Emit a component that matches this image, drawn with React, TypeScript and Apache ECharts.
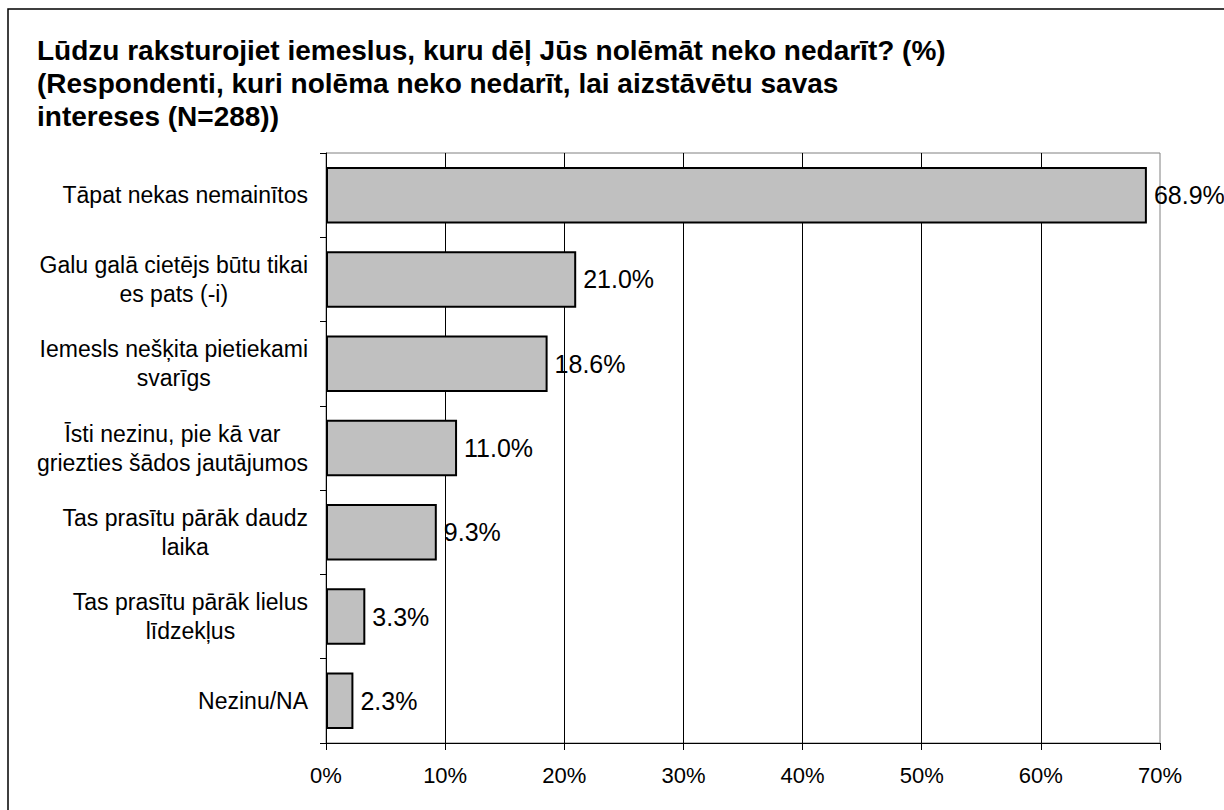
import React, { useEffect, useRef } from "react";
import * as echarts from "echarts";

const titleLines = [
  "Lūdzu raksturojiet iemeslus, kuru dēļ Jūs nolēmāt neko nedarīt? (%)",
  "(Respondenti, kuri nolēma neko nedarīt, lai aizstāvētu savas",
  "intereses (N=288))",
];

const categories = [
  "Tāpat nekas nemainītos",
  "Galu galā cietējs būtu tikai\nes pats (-i)",
  "Iemesls nešķita pietiekami\nsvarīgs",
  "Īsti nezinu, pie kā var\ngriezties šādos jautājumos",
  "Tas prasītu pārāk daudz\nlaika",
  "Tas prasītu pārāk lielus\nlīdzekļus",
  "Nezinu/NA",
];

const values = [68.9, 21.0, 18.6, 11.0, 9.3, 3.3, 2.3];

const xTicks = { min: 0, max: 70, interval: 10 };

const FONT = "'Liberation Sans', Arial, sans-serif";

export default function App() {
  const ref = useRef<HTMLDivElement>(null);
  useEffect(() => {
    if (!ref.current) return;
    const chart = echarts.init(ref.current, null, { renderer: "svg" });
    chart.setOption({
      animation: false,
      backgroundColor: "#ffffff",
      title: {
        text: titleLines.join("\n"),
        left: 37,
        top: 34,
        padding: 0,
        textStyle: {
          fontFamily: FONT,
          fontSize: 28,
          fontWeight: "bold",
          color: "#000",
          lineHeight: 33,
        },
      },
      graphic: [
        {
          type: "rect",
          shape: { x: 8, y: 9, width: 1400, height: 1000 },
          style: { fill: "none", stroke: "#000", lineWidth: 1.5 },
          silent: true,
          z: 100,
        },
      ],
      grid: {
        left: 326,
        right: 64,
        top: 153,
        bottom: 67,
        show: true,
        borderColor: "#808080",
        borderWidth: 1,
        backgroundColor: "transparent",
      },
      xAxis: {
        type: "value",
        min: xTicks.min,
        max: xTicks.max,
        interval: xTicks.interval,
        axisLine: { show: true, lineStyle: { color: "#000", width: 1 } },
        axisTick: { show: true, length: 7, lineStyle: { color: "#000" } },
        axisLabel: {
          formatter: "{value}%",
          fontFamily: FONT,
          fontSize: 22,
          color: "#000",
          margin: 21,
        },
        splitLine: {
          show: true,
          showMinLine: false,
          showMaxLine: false,
          lineStyle: { color: "#000", width: 1 },
        },
      },
      yAxis: {
        type: "category",
        inverse: true,
        data: categories,
        axisLine: { show: true, lineStyle: { color: "#000", width: 1 } },
        axisTick: { show: true, length: 6, lineStyle: { color: "#000" } },
        axisLabel: {
          margin: 18,
          align: "right",
          color: "#000",
          fontFamily: FONT,
          fontSize: 23,
          lineHeight: 29,
          formatter: (v: string) =>
            v
              .split("\n")
              .map((l) => `{c|${l}}`)
              .join("\n"),
          rich: {
            c: {
              align: "center",
              fontFamily: FONT,
              fontSize: 23,
              lineHeight: 29,
              color: "#000",
            },
          },
        },
        splitLine: { show: false },
      },
      series: [
        {
          type: "bar",
          data: values,
          barCategoryGap: "33%",
          itemStyle: {
            color: "#c0c0c0",
            borderColor: "#000",
            borderWidth: 2,
          },
          label: {
            show: true,
            position: "right",
            distance: 7,
            fontFamily: FONT,
            fontSize: 25,
            color: "#000",
            formatter: (p: any) => p.value.toFixed(1) + "%",
          },
        },
      ],
    });
    return () => chart.dispose();
  }, []);
  return (
    <div
      ref={ref}
      style={{ position: "fixed", left: 0, top: 0, width: 1224, height: 810 }}
    />
  );
}
